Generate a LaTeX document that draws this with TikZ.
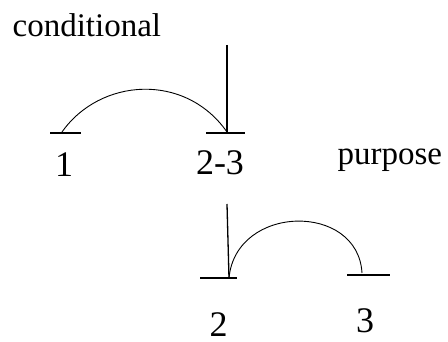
\documentclass[tikz,border=0pt]{standalone}
\usepackage{fontspec}
\setmainfont{Liberation Serif}
\usetikzlibrary{positioning}

\begin{document}
\begin{tikzpicture}[
    x=1pt, y=-1pt,
    line width=1.3pt,
    label/.style={font=\fontsize{36}{40}\selectfont, inner sep=0pt, anchor=base},
    tag/.style={font=\fontsize{33}{38}\selectfont, inner sep=0pt, anchor=base west},
    arc/.style={line width=0.9pt}
]
\useasboundingbox (0,0) rectangle (448,342);

% upper construction
\node (cond) [tag] at (12,37) {conditional};
\coordinate (top1) at (227,45);
\coordinate (one) at (62,132);
\coordinate (twothree) at (227,132);
\draw (50,133) -- (81,133);
\draw (206,133) -- (245,133);
\draw (top1) -- (twothree);
\draw [arc] (one) .. controls (100,78) and (185,72) .. (twothree);
\node (l1) [label] at (64,177) {1};
\node (l23) [label] at (220,175) {2-3};
\node (purp) [tag] at (337,165) {purpose};

% lower construction
\coordinate (top2) at (227,204);
\coordinate (two) at (229,278);
\coordinate (three) at (362,273);
\draw (200,278) -- (237,278);
\draw (347,275) -- (390,275);
\draw (top2) -- (two);
\draw [arc] (two) .. controls (236,204) and (358,202) .. (three);
\node (l2) [label] at (218.5,337) {2};
\node (l3) [label] at (365,333) {3};
\end{tikzpicture}
\end{document}
